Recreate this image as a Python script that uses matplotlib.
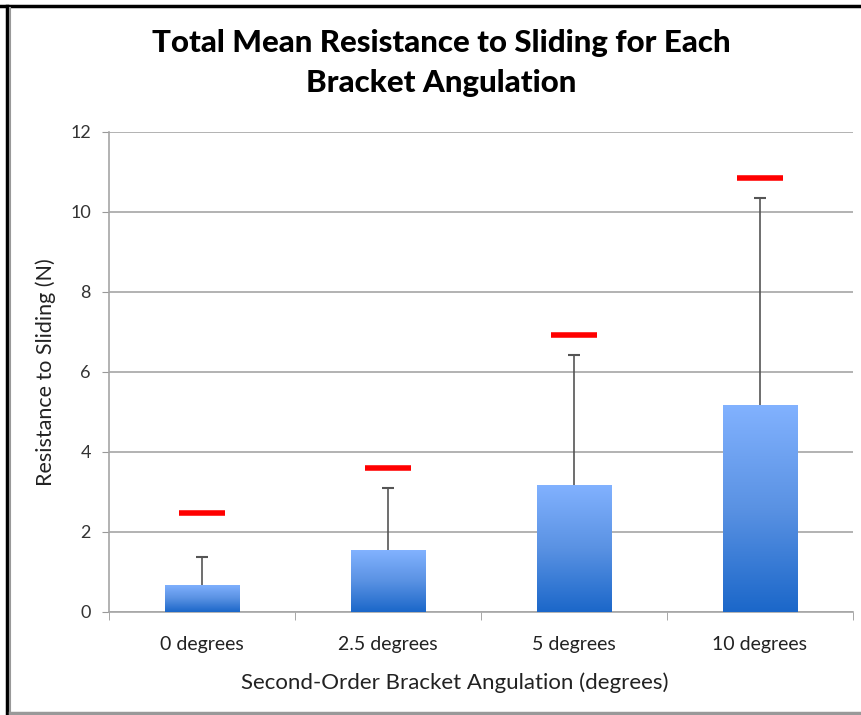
import matplotlib
matplotlib.use("Agg")
import matplotlib.pyplot as plt
import numpy as np
from matplotlib.colors import LinearSegmentedColormap
from matplotlib.lines import Line2D

categories = ["0 degrees", "2.5 degrees", "5 degrees", "10 degrees"]
means = [0.68, 1.55, 3.18, 5.18]
err_upper = [0.70, 1.55, 3.25, 5.17]
red_marks = [2.47, 3.60, 6.93, 10.85]
yticks = [0, 2, 4, 6, 8, 10, 12]

plt.rcParams['font.family'] = ['Lato', 'DejaVu Sans']

fig = plt.figure(figsize=(8.61, 7.15), dpi=100)
ax = fig.add_axes([109/861, 1-612/715, 744/861, 480/715])

x = np.arange(len(categories))
width = 0.4
bars = ax.bar(x, means, width=width, color='none', edgecolor='none', zorder=3)

cmap = LinearSegmentedColormap.from_list('g', ['#1B67C9', '#5A92E3', '#82B2FF'])
grad = np.linspace(0, 1, 256).reshape(-1, 1)
for b in bars:
    x0, y0 = b.get_x(), b.get_y()
    w, h = b.get_width(), b.get_height()
    im = ax.imshow(grad, extent=[x0, x0 + w, y0, y0 + h], origin='lower',
                   aspect='auto', cmap=cmap, zorder=3)
    im.set_clip_path(b)

tops = np.array(means) + np.array(err_upper)
ax.vlines(x, means, tops, color='#555555', linewidth=1.2, zorder=4)
ax.scatter(x, tops, marker='_', s=80, color='#555555', linewidths=1.5, zorder=4)

ax.scatter(x, red_marks, marker='_', s=1100, color='#FF0000', linewidths=4, zorder=5)

ax.set_xlim(-0.5, 3.5)
ax.set_ylim(0, 12)
ax.set_yticks(yticks)
ax.set_yticklabels([str(t) for t in yticks], fontsize=13, color='#333333')
ax.set_xticks(x)
ax.set_xticklabels(categories, fontsize=14, color='#222222')
ax.tick_params(axis='x', length=0, pad=17)
ax.tick_params(axis='y', length=5, color='#999999', pad=8)
ax.set_xticks(np.arange(-0.5, 4.0, 1.0), minor=True)
ax.tick_params(axis='x', which='minor', length=6, color='#999999')

ax.grid(axis='y', color='#A6A6A6', linewidth=1.2, zorder=0)
ax.set_axisbelow(True)
for s in ['top', 'right']:
    ax.spines[s].set_visible(False)
for s in ['left', 'bottom']:
    ax.spines[s].set_color('#A6A6A6')
    ax.spines[s].set_linewidth(1.2)

ax.set_ylabel("Resistance to Sliding (N)", fontsize=15.5, color='#222222', labelpad=10)
ax.set_xlabel("Second-Order Bracket Angulation (degrees)", fontsize=16,
              color='#222222')
ax.xaxis.set_label_coords((455-109)/744, -(683-612)/480)
ax.xaxis.label.set_va('center')

fig.text(441/861, 1-63/715, "Total Mean Resistance to Sliding for Each\nBracket Angulation",
         ha='center', va='center', fontsize=22.5, fontweight='black', color='black',
         linespacing=1.5)

# frame
fig.add_artist(Line2D([0, 1], [1-6/715, 1-6/715], color='black', linewidth=2.5,
                      transform=fig.transFigure))
fig.add_artist(Line2D([7/861, 7/861], [0, 1-6/715], color='black', linewidth=2.5,
                      transform=fig.transFigure))
fig.add_artist(Line2D([10/861, 10/861], [2/715, 1-8/715], color='#999999', linewidth=1.5,
                      transform=fig.transFigure))
fig.add_artist(Line2D([10/861, 1], [2/715, 2/715], color='#999999', linewidth=2.5,
                      transform=fig.transFigure))

fig.savefig("out.png", dpi=100)
